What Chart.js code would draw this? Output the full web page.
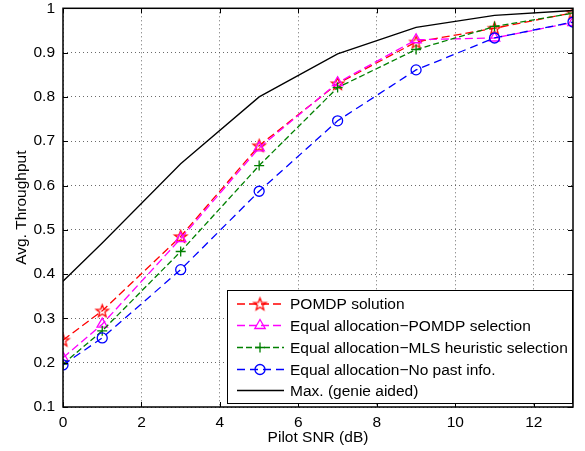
<!DOCTYPE html>
<html><head><meta charset="utf-8">
<script src="https://cdn.jsdelivr.net/npm/chart.js@4.4.0/dist/chart.umd.min.js"></script>
<style>html,body{margin:0;padding:0;background:#fff}#w{width:585px;height:451px;position:relative}</style>
</head><body><div id="w"><canvas id="c" width="585" height="451"></canvas></div>
<script>
// ---- data ----
const snr = [0, 1, 3, 5, 7, 9, 11, 13];
const pomdpSolution = [0.251, 0.317, 0.485, 0.690, 0.830, 0.924, 0.955, 0.990];
const eqPomdpSel = [0.211, 0.287, 0.480, 0.685, 0.832, 0.929, 0.933, 0.968];
const eqMlsSel = [0.197, 0.272, 0.451, 0.645, 0.821, 0.907, 0.959, 0.989];
const eqNoPast = [0.195, 0.256, 0.410, 0.587, 0.746, 0.861, 0.933, 0.969];
const maxGenie = [0.384, 0.470, 0.649, 0.800, 0.897, 0.957, 0.984, 0.995];
const seriesNames = ["POMDP solution", "Equal allocation\u2212POMDP selection", "Equal allocation\u2212MLS heuristic selection", "Equal allocation\u2212No past info.", "Max. (genie aided)"];
const xTickValues = [0, 2, 4, 6, 8, 10, 12];
const yTickValues = [0.1, 0.2, 0.3, 0.4, 0.5, 0.6, 0.7, 0.8, 0.9, 1];
const xTitle = "Pilot SNR (dB)";
const yTitle = "Avg. Throughput";

const FONT = "'Liberation Sans', Arial, Helvetica, sans-serif";
const FS = 15.5;

function pentagram(color, r) {
  const s = Math.ceil(r * 2 + 4);
  const cv = document.createElement('canvas');
  cv.width = s; cv.height = s;
  const g = cv.getContext('2d');
  const cx = s / 2, cy = s / 2 + 0.5, ri = r * 0.42;
  g.beginPath();
  for (let i = 0; i < 10; i++) {
    const rr = i % 2 === 0 ? r : ri;
    const a = -Math.PI / 2 + i * Math.PI / 5;
    const px = cx + rr * Math.cos(a), py = cy + rr * Math.sin(a);
    i === 0 ? g.moveTo(px, py) : g.lineTo(px, py);
  }
  g.closePath();
  g.strokeStyle = color; g.lineWidth = 1.3; g.stroke();
  return cv;
}
const starImg = pentagram('#ff0000', 6.5);

const styles = [
  {color: '#ff0000', dash: [8, 4], point: starImg, radius: 7},
  {color: '#ff00ff', dash: [8, 4], point: 'triangle', radius: 6},
  {color: '#008000', dash: [6, 3], point: 'cross', radius: 5},
  {color: '#0000ff', dash: [8, 5], point: 'circle', radius: 5},
  {color: '#000000', dash: [], point: false, radius: 0}
];
const values = [pomdpSolution, eqPomdpSel, eqMlsSel, eqNoPast, maxGenie];

const datasets = values.map((v, i) => ({
  label: seriesNames[i],
  data: snr.map((x, j) => ({x: x, y: v[j]})),
  borderColor: styles[i].color,
  backgroundColor: 'rgba(0,0,0,0)',
  borderWidth: 1.3,
  borderDash: styles[i].dash,
  pointStyle: styles[i].point,
  pointRadius: styles[i].radius,
  pointBorderColor: styles[i].color,
  pointBorderWidth: 1.3,
  pointBackgroundColor: 'rgba(0,0,0,0)',
  tension: 0,
  order: 5 - i
}));

const boxPlugin = {
  id: 'boxPlugin',
  afterDatasetsDraw(chart) {
    const ctx = chart.ctx, a = chart.chartArea;
    const xs = chart.scales.x, ys = chart.scales.y;
    ctx.save();
    ctx.strokeStyle = '#000'; ctx.lineWidth = 1; ctx.setLineDash([]);
    ctx.beginPath();
    xTickValues.forEach(t => {
      const px = Math.round(xs.getPixelForValue(t)) + 0.5;
      ctx.moveTo(px, a.bottom); ctx.lineTo(px, a.bottom - 5);
      ctx.moveTo(px, a.top); ctx.lineTo(px, a.top + 5);
    });
    yTickValues.forEach(t => {
      const py = Math.round(ys.getPixelForValue(t)) + 0.5;
      ctx.moveTo(a.left, py); ctx.lineTo(a.left + 5, py);
      ctx.moveTo(a.right, py); ctx.lineTo(a.right - 5, py);
    });
    ctx.stroke();
    ctx.lineWidth = 1.5;
    ctx.strokeRect(a.left, a.top, a.right - a.left, a.bottom - a.top);
    // legend
    const L = 227.5, T = 290.5, R = 572.5, B = 403.5;
    ctx.fillStyle = '#fff';
    ctx.fillRect(L, T, R - L, B - T);
    ctx.lineWidth = 1;
    ctx.strokeRect(L, T, R - L, B - T);
    const rowY = [304, 325.5, 347.5, 369.5, 390.5];
    ctx.font = FS + 'px ' + FONT;
    ctx.textBaseline = 'middle';
    ctx.textAlign = 'left';
    for (let i = 0; i < 5; i++) {
      const st = styles[i], y = rowY[i];
      ctx.strokeStyle = st.color; ctx.lineWidth = 1.3;
      ctx.setLineDash(st.dash);
      ctx.beginPath(); ctx.moveTo(237, y); ctx.lineTo(284, y); ctx.stroke();
      ctx.setLineDash([]);
      if (st.point) {
        ctx.strokeStyle = st.color; ctx.fillStyle = 'rgba(0,0,0,0)';
        Chart.helpers.drawPoint(ctx, {pointStyle: st.point, radius: st.radius, borderWidth: 1.3, rotation: 0}, 260, y);
      }
      ctx.fillStyle = '#000';
      ctx.fillText(seriesNames[i], 290, y + 1);
    }
    ctx.restore();
  }
};

new Chart(document.getElementById('c'), {
  type: 'line',
  data: {datasets: datasets},
  plugins: [boxPlugin],
  options: {
    responsive: false,
    devicePixelRatio: 1,
    animation: false,
    layout: {padding: {left: 0, top: 5, right: 12, bottom: 0}},
    plugins: {legend: {display: false}, tooltip: {enabled: false}},
    scales: {
      x: {
        type: 'linear', min: 0, max: 13,
        afterBuildTicks: s => { s.ticks = xTickValues.map(v => ({value: v})); },
        afterFit: s => { s.height = 44; s.paddingLeft = 0; s.paddingRight = 0; },
        ticks: {color: '#000', font: {family: FONT, size: FS}, padding: 6, maxRotation: 0},
        grid: {color: '#444', lineWidth: 0.8, drawTicks: false},
        border: {display: false, dash: [1, 3]},
        title: {display: true, text: xTitle, color: '#000', font: {family: FONT, size: FS}, padding: {top: 0, bottom: 4}}
      },
      y: {
        type: 'linear', min: 0.1, max: 1,
        afterBuildTicks: s => { s.ticks = yTickValues.map(v => ({value: v})); },
        afterFit: s => { s.width = 63; s.paddingTop = 0; s.paddingBottom = 0; },
        ticks: {color: '#000', font: {family: FONT, size: FS}, padding: 8, callback: v => String(Math.round(v * 10) / 10)},
        grid: {color: '#444', lineWidth: 0.8, drawTicks: false},
        border: {display: false, dash: [1, 3]},
        title: {display: true, text: yTitle, color: '#000', font: {family: FONT, size: FS}, padding: {top: 12, bottom: 0}}
      }
    }
  }
});
</script></body></html>
